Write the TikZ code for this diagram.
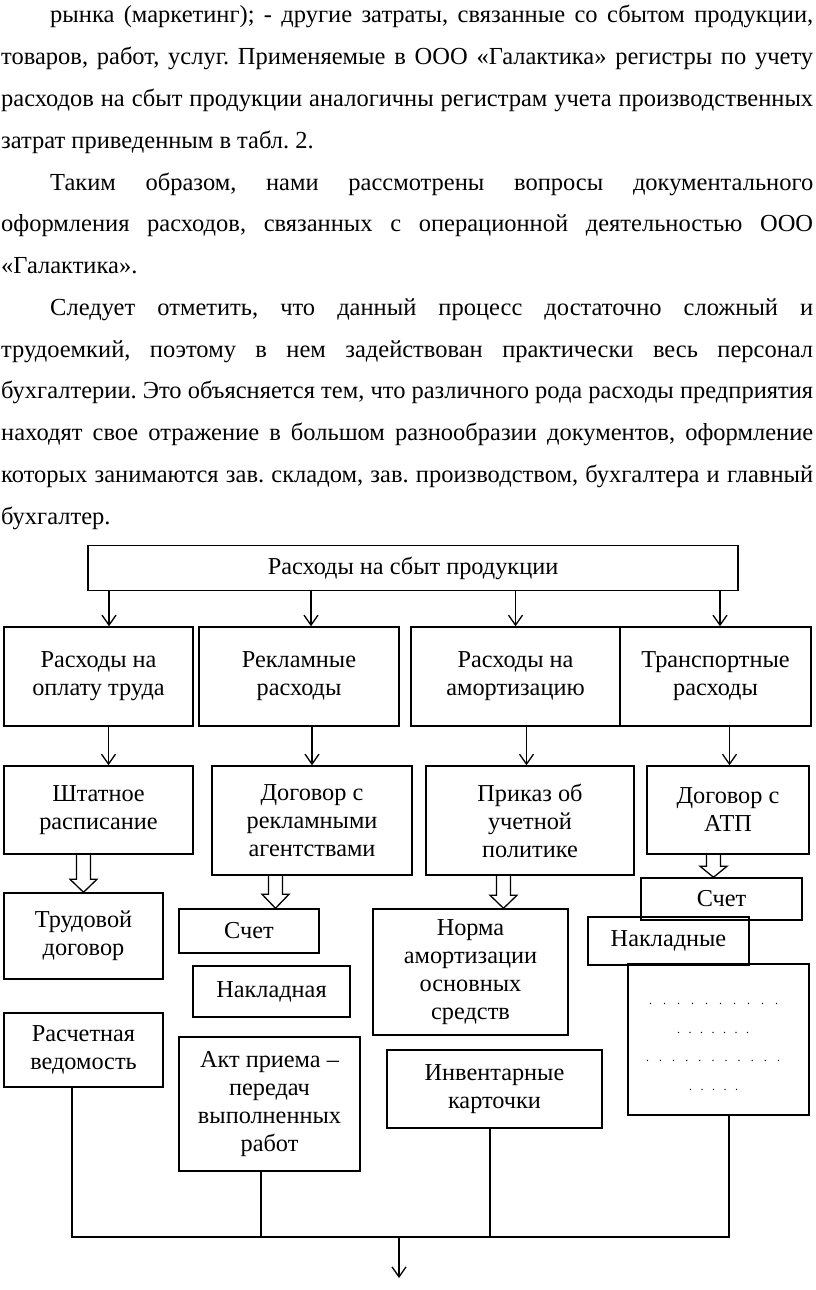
\documentclass[tikz,border=0pt]{standalone}
\usepackage{fontspec}
\setmainfont{Liberation Serif}
\usetikzlibrary{arrows.meta,calc}
\frenchspacing
\newcommand\hollowarrow[3]{%
  \draw[line width=1.3pt, line join=miter] let \p1=(#1), \p2=(#2) in
  (\x1-7pt,\y1) -- (\x1-7pt,\y2+#3) -- (\x1-13.5pt,\y2+#3) -- (\x1,\y2)
  -- (\x1+13.5pt,\y2+#3) -- (\x1+7pt,\y2+#3) -- (\x1+7pt,\y1);}
\begin{document}
\begin{tikzpicture}[x=1pt,y=-1pt,
  body/.style={anchor=base west, inner sep=0pt, font=\fontsize{24.5}{24.5}\selectfont},
  box/.style={draw, line width=1.5pt, inner sep=0pt, align=center,
              font=\fontsize{24.3}{28}\selectfont},
  conn/.style={line width=1.3pt},
  arr/.style={line width=1.3pt, -{Straight Barb[length=10pt,width=14pt,line width=1.3pt]}},
  dotrow/.style={anchor=base, inner sep=0pt, font=\fontsize{12}{12}\selectfont}]
\useasboundingbox[fill=white] (0,0) rectangle (816,1290);

% body text
\node[body] (l1) at (50,23) {\makebox[763pt][s]{рынка (маркетинг); - другие затраты, связанные со сбытом продукции,}};
\node[body] (l2) at (1,64.75) {\makebox[812pt][s]{товаров, работ, услуг. Применяемые в ООО «Галактика» регистры по учету}};
\node[body] (l3) at (1,106.5) {\makebox[812pt][s]{расходов на сбыт продукции аналогичны регистрам учета производственных}};
\node[body] (l4) at (1,148.25) {затрат приведенным в табл. 2.};
\node[body] (l5) at (50,190) {\makebox[763pt][s]{Таким образом, нами рассмотрены вопросы документального}};
\node[body] (l6) at (1,231.75) {\makebox[812pt][s]{оформления расходов, связанных с операционной деятельностью ООО}};
\node[body] (l7) at (1,273.5) {«Галактика».};
\node[body] (l8) at (50,315.25) {\makebox[763pt][s]{Следует отметить, что данный процесс достаточно сложный и}};
\node[body] (l9) at (1,357) {\makebox[812pt][s]{трудоемкий, поэтому в нем задействован практически весь персонал}};
\node[body] (l10) at (1,398.75) {\makebox[812pt][s]{бухгалтерии. Это объясняется тем, что различного рода расходы предприятия}};
\node[body] (l11) at (1,440.5) {\makebox[812pt][s]{находят свое отражение в большом разнообразии документов, оформление}};
\node[body] (l12) at (1,482.25) {\makebox[812pt][s]{которых занимаются зав. складом, зав. производством, бухгалтера и главный}};
\node[body] (l13) at (1,524) {бухгалтер.};

% diagram boxes
\node[box, minimum width=650pt, minimum height=45pt] (top) at (413,568) {Расходы на сбыт продукции};

\node[box, minimum width=189pt, minimum height=99pt] (A) at (98.5,676.5) {Расходы на\\оплату труда};
\node[box, minimum width=200pt, minimum height=99pt] (B) at (299,676.5) {Рекламные\\расходы};
\node[box, minimum width=209pt, minimum height=99pt] (C) at (515.5,676.5) {Расходы на\\амортизацию};
\node[box, minimum width=191pt, minimum height=99pt] (D) at (715.5,676.5) {Транспортные\\расходы};

\node[box, minimum width=189pt, minimum height=88pt] (S1) at (98.5,810) {Штатное\\расписание};
\node[box, minimum width=200pt, minimum height=109pt] (S2) at (312,820.5) {Договор с\\рекламными\\агентствами};
\node[box, minimum width=208pt, minimum height=109pt] (S3) at (530,820.5) {Приказ об\\учетной\\политике};
\node[box, minimum width=162pt, minimum height=88pt] (S4) at (728,810) {Договор с\\АТП};

\node[box, minimum width=159pt, minimum height=86pt] (T1) at (83.5,936) {Трудовой\\договор};
\node[box, minimum width=140pt, minimum height=44pt] (T2) at (249,931) {Счет};
\node[box, minimum width=157pt, minimum height=51pt] (T3) at (271.5,991.5) {Накладная};
\node[box, minimum width=159pt, minimum height=74pt] (T4) at (83.5,1050) {Расчетная\\ведомость};
\node[box, minimum width=181pt, minimum height=134pt] (T5) at (269.5,1104) {Акт приема –\\передач\\выполненных\\работ};

\node[box, minimum width=195pt, minimum height=126pt] (N1) at (470.5,972) {Норма\\амортизации\\основных\\средств};
\node[box, minimum width=215pt, minimum height=78pt] (N2) at (494.5,1089) {Инвентарные\\карточки};

\node[box, minimum width=161pt, minimum height=42pt] (R1) at (721.5,899) {Счет};
\node[box, minimum width=161pt, minimum height=48pt] (R2) at (668.5,941) {Накладные};
\node[box, minimum width=181pt, minimum height=151pt] (R3) at (718.5,1039.5) {};

\node[dotrow] (d1) at (713.5,1004) {\makebox[129pt][s]{. . . . . . . . . .}};
\node[dotrow] (d2) at (713,1033) {\makebox[72pt][s]{. . . . . . .}};
\node[dotrow] (d3) at (713,1061) {\makebox[134pt][s]{. . . . . . . . . . .}};
\node[dotrow] (d4) at (713.5,1090) {\makebox[49pt][s]{. . . . .}};

% arrows from top
\draw[arr] ([xshift=10.5pt]A.north |- top.south) -- ([xshift=10.5pt]A.north);
\draw[arr] ([xshift=12pt]B.north |- top.south) -- ([xshift=12pt]B.north);
\draw[arr] (C.north |- top.south) -- (C.north);
\draw[arr] ([xshift=4.5pt]D.north |- top.south) -- ([xshift=4.5pt]D.north);

% arrows level 2 -> 3
\draw[arr] ([xshift=10pt]S1.north |- A.south) -- ([xshift=10pt]S1.north);
\draw[arr] (S2.north |- B.south) -- (S2.north);
\draw[arr] ([xshift=-3.5pt]S3.north |- C.south) -- ([xshift=-3.5pt]S3.north);
\draw[arr] ([xshift=1.5pt]S4.north |- D.south) -- ([xshift=1.5pt]S4.north);

% hollow arrows
\hollowarrow{T1.north |- S1.south}{T1.north}{13pt}
\hollowarrow{$(T2.north |- S2.south)+(26.5pt,0)$}{$(T2.north)+(26.5pt,0)$}{14pt}
\hollowarrow{$(N1.north |- S3.south)+(33pt,0)$}{$(N1.north)+(33pt,0)$}{13pt}
\hollowarrow{$(R1.north |- S4.south)+(-8pt,0)$}{$(R1.north)+(-8pt,0)$}{11pt}

% bottom bus
\coordinate (bus) at (399,1237);
\coordinate (out) at (399,1278);
\draw[conn] ([xshift=-11.5pt]T4.south) |- ([xshift=10.5pt]R3.south |- bus) -- ([xshift=10.5pt]R3.south);
\draw[conn] ([xshift=-8.5pt]T5.south) -- ([xshift=-8.5pt]T5.south |- bus);
\draw[conn] ([xshift=-4.5pt]N2.south) -- ([xshift=-4.5pt]N2.south |- bus);
\draw[arr] (bus) -- (out);
\end{tikzpicture}
\end{document}
